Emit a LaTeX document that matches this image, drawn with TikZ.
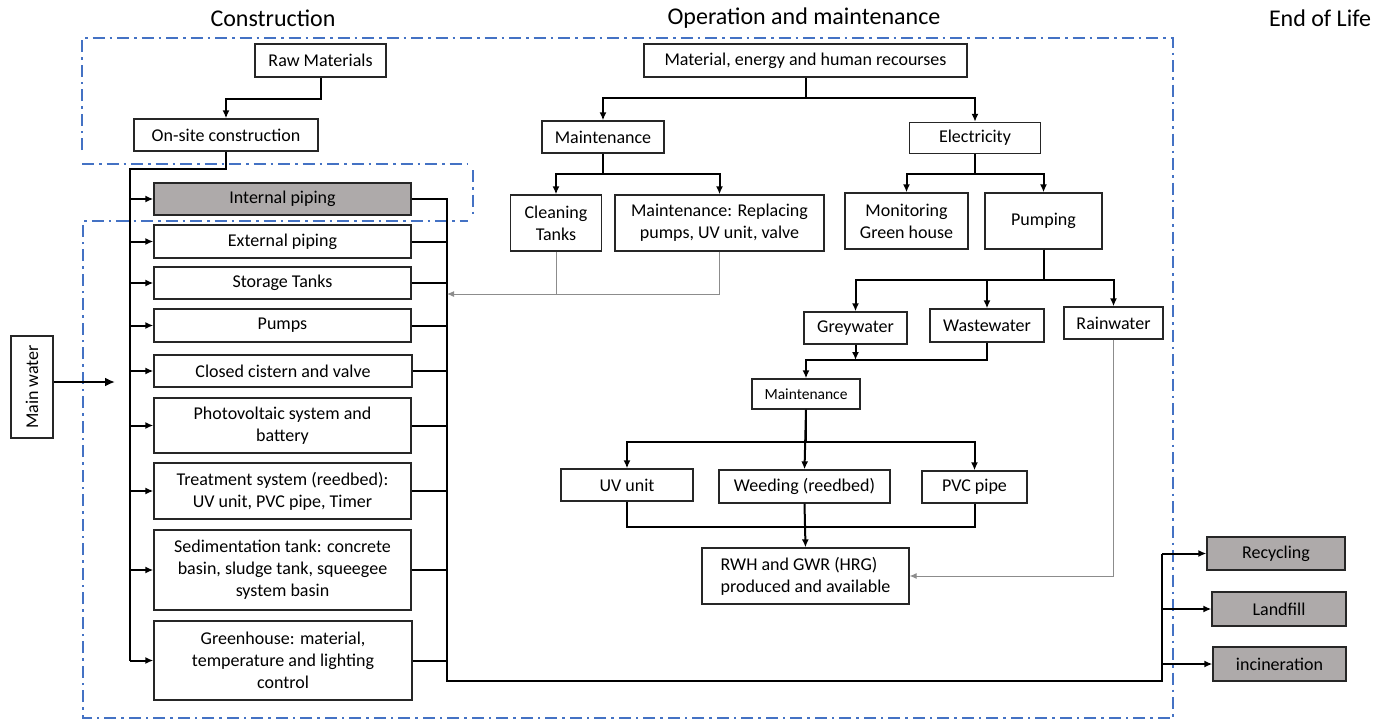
\documentclass[tikz,border=0pt]{standalone}
\usepackage{fontspec}
\setmainfont{Carlito}
\usetikzlibrary{arrows.meta}
\definecolor{phaseblue}{RGB}{68,114,196}
\definecolor{greyfill}{RGB}{174,170,170}

\begin{document}
\begin{tikzpicture}[x=1pt,y=-1pt]
    \tikzstyle{box}=[rectangle,draw=black!85,line width=1.3pt,inner sep=2pt,align=center,font=\fontsize{18}{22}\selectfont]
    \tikzstyle{greybox}=[box,fill=greyfill]
    \tikzstyle{head}=[font=\fontsize{24}{28}\selectfont]
    \tikzstyle{link}=[line width=2pt,black]
    \tikzstyle{arr}=[link,-{Latex[length=8pt,width=7pt]}]
    \tikzstyle{feed}=[line width=1pt,black!45,-{Latex[length=7pt,width=6pt]}]
    \tikzstyle{phase}=[line width=2.4pt,phaseblue,dash pattern=on 12pt off 5pt on 2.5pt off 5pt]
    \useasboundingbox (0,0) rectangle (1375,723);
    % phases
    \node (hcons) at (273,18)  [head] {Construction};
    \node (hop)   at (804,18)  [head] {Operation and maintenance};
    \node (heol)  at (1320,18) [head] {End of Life};
    \draw [phase] (82,150) -- (82,38) -- (1173,38) -- (1173,718) -- (83,718) -- (83,221) -- (468,221);
    \draw [phase] (82,164) -- (468,164);
    \draw [phase] (473,170) -- (473,216);
    % construction
    \node (rawmat)   at (320.5,60.5) [box,minimum width=131,minimum height=33] {Raw Materials};
    \node (onsite)   at (226,135)    [box,minimum width=184,minimum height=32] {On-site construction};
    \node (internal) at (282.5,199)  [greybox,minimum width=257,minimum height=32] {Internal piping};
    \node (external) at (282.5,241.5)[box,minimum width=257,minimum height=33] {External piping};
    \node (storage)  at (282.5,283)  [box,minimum width=257,minimum height=32] {Storage Tanks};
    \node (pumps)    at (282.5,325.5)[box,minimum width=257,minimum height=33] {Pumps};
    \node (cistern)  at (283,371)    [box,minimum width=258,minimum height=32] {Closed cistern and valve};
    \node (pv)       at (282.5,425.5)[box,minimum width=257,minimum height=55] {Photovoltaic system and\\battery};
    \node (treat)    at (282.5,491)  [box,minimum width=257,minimum height=56] {Treatment system (reedbed):\\UV unit, PVC pipe, Timer};
    \node (sedi)     at (282.5,570)  [box,minimum width=257,minimum height=80] {Sedimentation tank: concrete\\basin, sludge tank, squeegee\\system basin};
    \node (green)    at (283,660.5)  [box,minimum width=258,minimum height=79] {Greenhouse: material,\\temperature and lighting\\control};
    \node (mainwater) at (32,387)    [box,minimum width=102,minimum height=42,rotate=90] {Main water};
    \coordinate (mwend) at (115,382);
    \coordinate (ltop) at (130,169);
    \coordinate (lbot) at (130,660.5);
    \coordinate (rtop) at (447,199);
    \coordinate (rbot) at (447,681);
    \coordinate (ebus) at (1162,681);
    \coordinate (etop) at (1162,553.5);
    \draw [arr] (rawmat.south) -- ++(0,21) -| (onsite.north);
    \draw [link] (onsite.south) |- (ltop) -- (lbot);
    \foreach \b in {internal,external,storage,pumps,cistern,pv,treat,sedi,green}
        \draw [arr] (ltop |- \b.west) -- (\b.west);
    \draw [link] (internal.east) -- (rtop) -- (rbot) -- (ebus) -- (etop);
    \foreach \b in {external,storage,pumps,cistern,pv,treat,sedi,green}
        \draw [link] (\b.east) -- (rtop |- \b.east);
    \draw [arr,line width=2.5pt,-{Latex[length=10pt,width=9pt]}] (mainwater.south |- mwend) -- (mwend);
    % operation and maintenance
    \node (material) at (805.5,60.5) [box,minimum width=323,minimum height=33] {Material, energy and human recourses};
    \node (maint)    at (603,137)    [box,minimum width=122,minimum height=32] {Maintenance};
    \node (elec)     at (975,138)    [box,minimum width=131,minimum height=31] {Electricity};
    \node (clean)    at (556,223)    [box,minimum width=91,minimum height=56] {Cleaning\\Tanks};
    \node (replace)  at (719.5,223)  [box,minimum width=209,minimum height=56] {Maintenance: Replacing\\pumps, UV unit, valve};
    \node (monitor)  at (906.5,221)  [box,minimum width=123,minimum height=56] {Monitoring\\Green house};
    \node (pumping)  at (1043.5,221) [box,minimum width=117,minimum height=56] {Pumping};
    \node (grey)     at (855.5,328)  [box,minimum width=103,minimum height=32] {Greywater};
    \node (waste)    at (987,325.5)  [box,minimum width=114,minimum height=33] {Wastewater};
    \node (rain)     at (1113.5,323) [box,minimum width=99,minimum height=32] {Rainwater};
    \node (maint2)   at (806,394)    [box,minimum width=108,minimum height=30,font=\fontsize{15.5}{18}\selectfont] {Maintenance};
    \node (uv)       at (627,485)    [box,minimum width=132,minimum height=32] {UV unit};
    \node (weed)     at (804.5,486.5)[box,minimum width=171,minimum height=33] {Weeding (reedbed)};
    \node (pvc)      at (974.5,487)  [box,minimum width=105,minimum height=32] {PVC pipe};
    \node (rwh)      at (805.5,576)  [box,minimum width=207,minimum height=56,align=left] {RWH and GWR (HRG)\\produced and available};
    \coordinate (fb) at (447,294);
    \coordinate (gwjoin) at (855.5,360);
    \draw [arr] (material.south) -- ++(0,20) -| (maint.north);
    \draw [arr] (material.south) -- ++(0,20) -| (elec.north);
    \draw [arr] (maint.south) -- ++(0,20) -| (clean.north);
    \draw [arr] (maint.south) -- ++(0,20) -| (replace.north);
    \draw [arr] (elec.south) -- ++(0,20) -| (monitor.north);
    \draw [arr] (elec.south) -- ++(0,20) -| (pumping.north);
    \draw [arr] (pumping.south) -- ++(0,30) -| (grey.north);
    \draw [arr] (pumping.south) -- ++(0,30) -| (waste.north);
    \draw [arr] (pumping.south) -- ++(0,30) -| (rain.north);
    \draw [arr] (grey.south) -- (gwjoin);
    \draw [arr] (waste.south) |- (gwjoin) -| (maint2.north);
    \draw [arr] (maint2.south) -- ++(0,32) -| (uv.north);
    \draw [arr] (maint2.south) -- ++(0,32) -| (pvc.north);
    \draw [arr] (maint2.south) -- (weed.north);
    \draw [link] (uv.south) -- ++(0,25) -| (pvc.south);
    \draw [arr] (weed.south) -- (rwh.north);
    \draw [feed,-] (replace.south) |- (clean.south |- fb);
    \draw [feed] (clean.south) |- (fb);
    \draw [feed] (rain.south) |- (rwh.east);
    % end of life
    \node (recyc)    at (1276,553.5) [greybox,minimum width=138,minimum height=33] {Recycling};
    \node (landfill) at (1279,609)   [greybox,minimum width=134,minimum height=34] {Landfill};
    \node (incin)    at (1279.5,664) [greybox,minimum width=133,minimum height=34] {incineration};
    \draw [arr] (etop) -- (recyc.west);
    \draw [arr] (ebus |- landfill.west) -- (landfill.west);
    \draw [arr] (ebus |- incin.west) -- (incin.west);
\end{tikzpicture}
\end{document}
